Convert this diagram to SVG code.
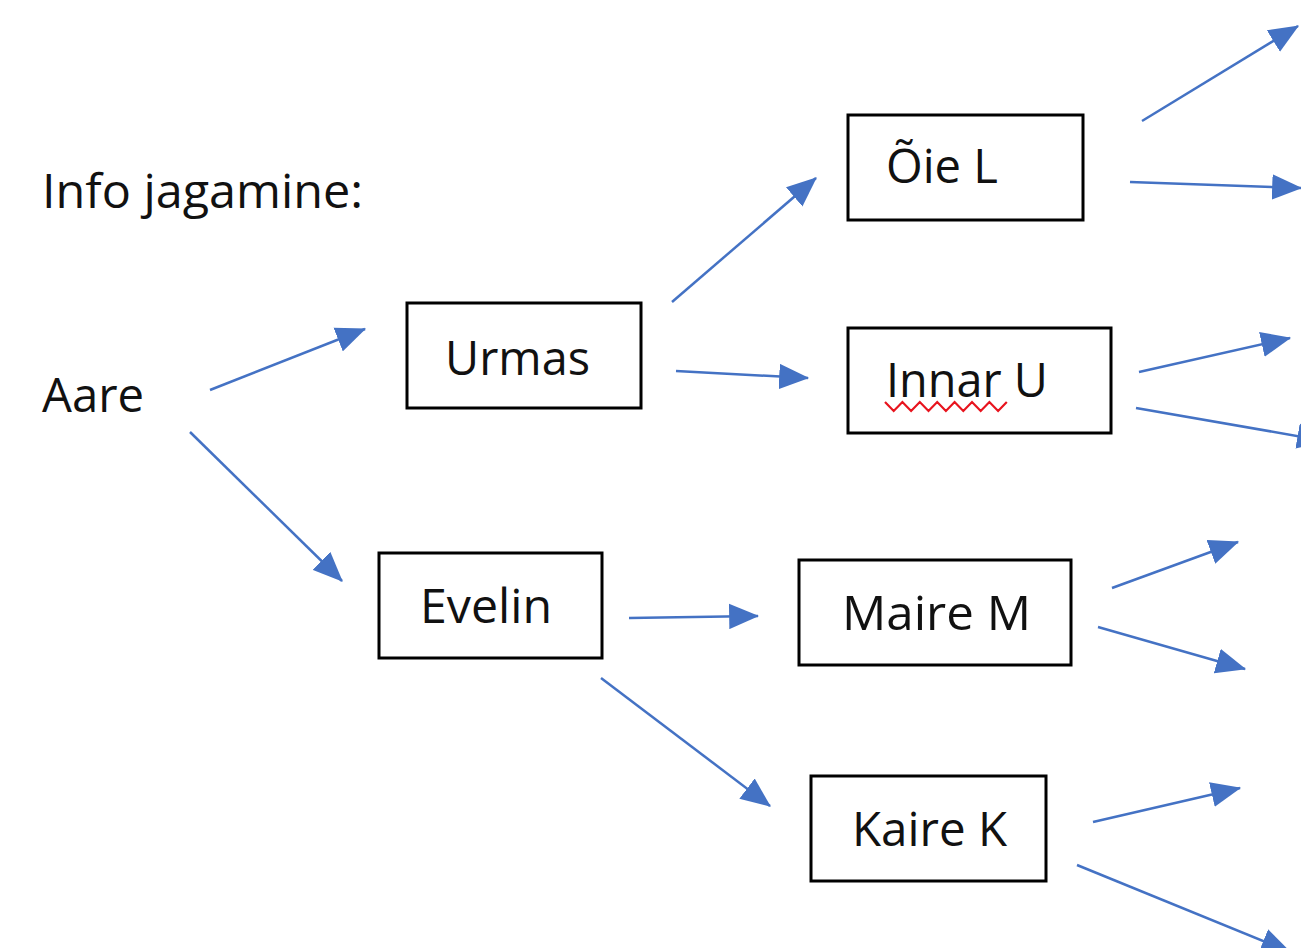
<svg xmlns="http://www.w3.org/2000/svg" width="1301" height="948" viewBox="0 0 1301 948">
<style>
.t{font-family:"Open Sans","Noto Sans","Liberation Sans",sans-serif;font-size:47px;fill:#111}
.box{fill:#fff;stroke:#000;stroke-width:3}
.c{fill:none;stroke:#4472C4;stroke-width:2.5;marker-end:url(#ah)}
</style>
<defs>
<marker id="ah" markerUnits="userSpaceOnUse" markerWidth="30" markerHeight="26" viewBox="0 0 26 22" refX="25" refY="11" orient="auto">
<path d="M0,0 L26,11 L0,22 Z" fill="#4472C4"/>
</marker>
</defs>
<rect width="1301" height="948" fill="#fff"/>
<g id="title"><text class="t" x="42" y="208" textLength="321" lengthAdjust="spacingAndGlyphs">Info jagamine:</text></g>
<g id="aare"><text class="t" x="42" y="412" textLength="102" lengthAdjust="spacingAndGlyphs">Aare</text></g>
<g id="urmas"><rect class="box" x="407" y="303" width="234" height="105"/><text class="t" x="445" y="375" textLength="145" lengthAdjust="spacingAndGlyphs">Urmas</text></g>
<g id="evelin"><rect class="box" x="379" y="553" width="223" height="105"/><text class="t" x="420" y="623" textLength="132" lengthAdjust="spacingAndGlyphs">Evelin</text></g>
<g id="oie"><rect class="box" x="848" y="115" width="235" height="105"/><text class="t" x="886" y="183" textLength="112" lengthAdjust="spacingAndGlyphs">Õie L</text></g>
<g id="innar"><rect class="box" x="848" y="328" width="263" height="105"/><text class="t" x="886" y="397" textLength="162" lengthAdjust="spacingAndGlyphs">Innar U</text>
<path d="M885,402 l8.7,9 l8.7,-9 l8.7,9 l8.7,-9 l8.7,9 l8.7,-9 l8.7,9 l8.7,-9 l8.7,9 l8.7,-9 l8.7,9 l8.7,-9 l8.7,9 l8.7,-9" fill="none" stroke="#e8141e" stroke-width="2.2"/></g>
<g id="maire"><rect class="box" x="799" y="560" width="272" height="105"/><text class="t" x="842" y="630" textLength="189" lengthAdjust="spacingAndGlyphs">Maire M</text></g>
<g id="kaire"><rect class="box" x="811" y="776" width="235" height="105"/><text class="t" x="852" y="846" textLength="155" lengthAdjust="spacingAndGlyphs">Kaire K</text></g>
<g id="connectors">
<line class="c" x1="210" y1="390" x2="365" y2="329"/>
<line class="c" x1="190" y1="432" x2="342" y2="581"/>
<line class="c" x1="672" y1="302" x2="816" y2="178"/>
<line class="c" x1="676" y1="371" x2="808" y2="378"/>
<line class="c" x1="629" y1="618" x2="758" y2="616"/>
<line class="c" x1="601" y1="678" x2="770" y2="806"/>
<line class="c" x1="1142" y1="121" x2="1298" y2="26"/>
<line class="c" x1="1130" y1="182" x2="1301" y2="188"/>
<line class="c" x1="1139" y1="372" x2="1290" y2="338"/>
<line class="c" x1="1136" y1="408" x2="1326" y2="441"/>
<line class="c" x1="1112" y1="588" x2="1238" y2="542"/>
<line class="c" x1="1098" y1="627" x2="1245" y2="669"/>
<line class="c" x1="1093" y1="822" x2="1240" y2="788"/>
<line class="c" x1="1077" y1="865" x2="1290" y2="952"/>
</g>
</svg>
